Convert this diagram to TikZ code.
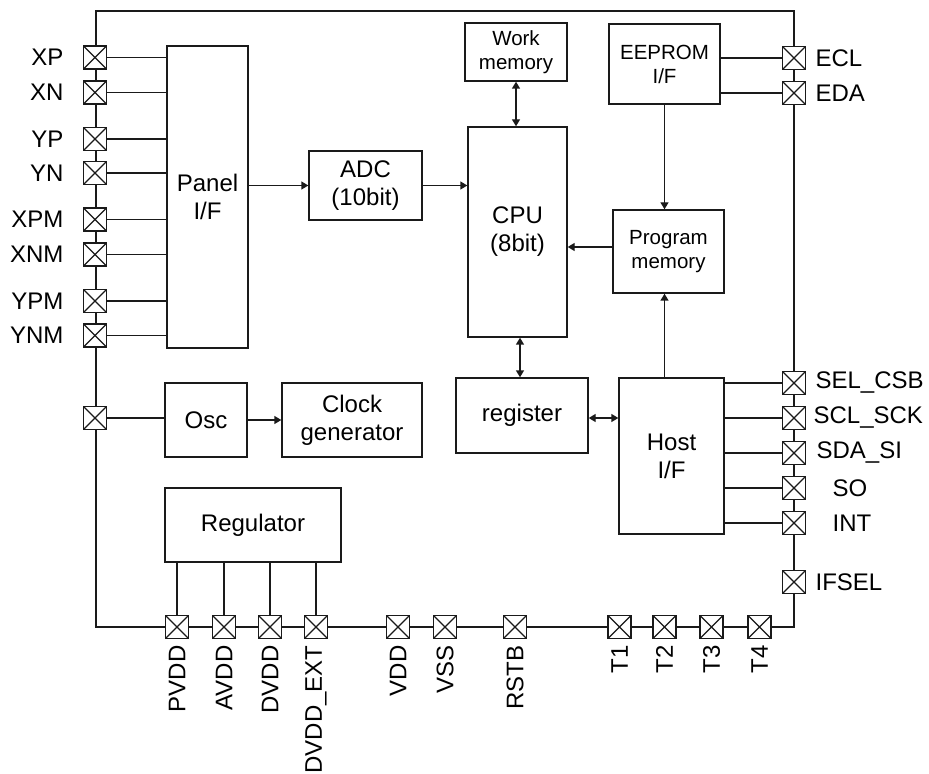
\documentclass[tikz,border=0pt]{standalone}
\usepackage{fontspec}
\setmainfont{Liberation Sans}
\usepackage{tikz}
\usetikzlibrary{arrows.meta}
\definecolor{linecolor}{HTML}{1a1a1a}

\tikzset{
    block/.style = {draw = linecolor, line width = 0.7pt, rectangle, align = center, font = \fontsize{12}{14}\selectfont},
    smallblock/.style = {block, font = \fontsize{10.25}{12}\selectfont},
    pad/.style = {draw = linecolor, line width = 0.7pt, fill = white, rectangle, minimum size = 11.5pt, inner sep = 0pt,
        path picture = {\draw [line width = 0.55pt] (path picture bounding box.south west) -- (path picture bounding box.north east)
            (path picture bounding box.north west) -- (path picture bounding box.south east);}},
    padl/.style = {left, inner sep = 0pt, xshift = -9.5pt, font = \fontsize{12}{14}\selectfont},
    padr/.style = {right, inner sep = 0pt, xshift = 4.5pt, font = \fontsize{12}{14}\selectfont},
    padb/.style = {yshift = -3pt, anchor = east, rotate = 90, inner sep = 0pt, font = \fontsize{12}{14}\selectfont},
    wire/.style = {draw = linecolor, line width = 0.7pt},
    link/.style = {wire, ->, > = {Triangle[length = 3.5pt, width = 4pt]}},
    dlink/.style = {wire, <->, > = {Triangle[length = 3.5pt, width = 4pt]}}
}

\begin{document}
\begin{tikzpicture}[x = 0.5pt, y = -0.5pt]
        \useasboundingbox (0, 0) rectangle (929, 774);

        % Chip outline
        \draw [wire] (96, 11) rectangle (794, 627);

        % Blocks
        \node [block, minimum width = 40.5pt, minimum height = 151pt] (panel) at (207.5, 197) {Panel\\I/F};
        \node [block, minimum width = 56.5pt, minimum height = 34.5pt] (adc) at (365.5, 185.5) {ADC\\(10bit)};
        \node [block, minimum width = 49.5pt, minimum height = 105pt] (cpu) at (517.5, 232) {CPU\\(8bit)};
        \node [smallblock, minimum width = 51pt, minimum height = 29pt] (work) at (516, 52) {Work\\memory};
        \node [smallblock, minimum width = 55.5pt, minimum height = 40pt] (eeprom) at (664.5, 64) {EEPROM\\I/F};
        \node [smallblock, minimum width = 55.5pt, minimum height = 41.5pt] (prog) at (668.5, 251.5) {Program\\memory};
        \node [block, minimum width = 66pt, minimum height = 37.5pt] (register) at (522, 415.5) {register};
        \node [block, minimum width = 52.5pt, minimum height = 78pt] (host) at (671.5, 456) {Host\\I/F};
        \node [block, minimum width = 41pt, minimum height = 37pt] (osc) at (206, 420) {Osc};
        \node [block, minimum width = 70pt, minimum height = 37pt] (clock) at (352, 420) {Clock\\generator};
        \node [block, minimum width = 88pt, minimum height = 37pt] (reg) at (253, 525) {Regulator};

        % Pads, left side
        \node [pad] (pXP) at (95, 57.5) {};
        \node [pad] (pXN) at (95, 92.5) {};
        \node [pad] (pYP) at (95, 139) {};
        \node [pad] (pYN) at (95, 173) {};
        \node [pad] (pXPM) at (95, 219.5) {};
        \node [pad] (pXNM) at (95, 254.5) {};
        \node [pad] (pYPM) at (95, 301) {};
        \node [pad] (pYNM) at (95, 335.5) {};
        \node [pad] (pOSC) at (95, 418) {};

        % Pads, right side
        \node [pad] (pECL) at (794, 58) {};
        \node [pad] (pEDA) at (794, 93) {};
        \node [pad] (pSEL) at (794, 383) {};
        \node [pad] (pSCL) at (794, 418) {};
        \node [pad] (pSDA) at (794, 453) {};
        \node [pad] (pSO) at (794, 488) {};
        \node [pad] (pINT) at (794, 523) {};
        \node [pad] (pIFSEL) at (794, 582) {};

        % Pads, bottom side
        \node [pad] (pPVDD) at (177, 627) {};
        \node [pad] (pAVDD) at (224, 627) {};
        \node [pad] (pDVDD) at (270, 627) {};
        \node [pad] (pDVDDEXT) at (316, 627) {};
        \node [pad] (pVDD) at (398, 627) {};
        \node [pad] (pVSS) at (445, 627) {};
        \node [pad] (pRSTB) at (515, 627) {};
        \node [pad] (pT1) at (619.5, 627) {};
        \node [pad] (pT2) at (664.5, 627) {};
        \node [pad] (pT3) at (711.5, 627) {};
        \node [pad] (pT4) at (759.5, 627) {};

        % Draw the links
        \draw [link] (adc.west -| panel.east) -- (adc.west);
        \draw [link] (adc.east) -- (adc.east -| cpu.west);
        \draw [dlink] (work.south) -- (work.south |- cpu.north);
        \draw [link] (eeprom.south) -- (eeprom.south |- prog.north);
        \draw [link] (prog.west |- 0, 247) -- (cpu.east |- 0, 247);
        \draw [link] (host.north -| eeprom.south) -- (eeprom.south |- prog.south);
        \draw [dlink] (cpu.south -| 520, 0) -- (register.north -| 520, 0);
        \draw [dlink] (register.east |- pSCL) -- (host.west |- pSCL);
        \draw [link] (osc.east) -- (clock.west);

        % Wires to pads
        \draw [wire] (pXP.east) -- (pXP.east -| panel.west);
        \draw [wire] (pXN.east) -- (pXN.east -| panel.west);
        \draw [wire] (pYP.east) -- (pYP.east -| panel.west);
        \draw [wire] (pYN.east) -- (pYN.east -| panel.west);
        \draw [wire] (pXPM.east) -- (pXPM.east -| panel.west);
        \draw [wire] (pXNM.east) -- (pXNM.east -| panel.west);
        \draw [wire] (pYPM.east) -- (pYPM.east -| panel.west);
        \draw [wire] (pYNM.east) -- (pYNM.east -| panel.west);
        \draw [wire] (pOSC.east) -- (pOSC.east -| osc.west);
        \draw [wire] (pECL.west -| eeprom.east) -- (pECL.west);
        \draw [wire] (pEDA.west -| eeprom.east) -- (pEDA.west);
        \draw [wire] (pSEL.west -| host.east) -- (pSEL.west);
        \draw [wire] (pSCL.west -| host.east) -- (pSCL.west);
        \draw [wire] (pSDA.west -| host.east) -- (pSDA.west);
        \draw [wire] (pSO.west -| host.east) -- (pSO.west);
        \draw [wire] (pINT.west -| host.east) -- (pINT.west);
        \draw [wire] (reg.south -| pPVDD) -- (pPVDD.north);
        \draw [wire] (reg.south -| pAVDD) -- (pAVDD.north);
        \draw [wire] (reg.south -| pDVDD) -- (pDVDD.north);
        \draw [wire] (reg.south -| pDVDDEXT) -- (pDVDDEXT.north);

        % Pad names
        \node [padl] at (pXP.west) {XP};
        \node [padl] at (pXN.west) {XN};
        \node [padl] at (pYP.west) {YP};
        \node [padl] at (pYN.west) {YN};
        \node [padl] at (pXPM.west) {XPM};
        \node [padl] at (pXNM.west) {XNM};
        \node [padl] at (pYPM.west) {YPM};
        \node [padl] at (pYNM.west) {YNM};
        \node [padr] at (pECL.east) {ECL};
        \node [padr] at (pEDA.east) {EDA};
        \node [padr] at (pSEL.east) {SEL\_CSB};
        \node [padr, xshift = -1pt] at (pSCL.east) {SCL\_SCK};
        \node [padr, xshift = 0.5pt] at (pSDA.east) {SDA\_SI};
        \node [padr, xshift = 8.5pt] at (pSO.east) {SO};
        \node [padr, xshift = 8.5pt] at (pINT.east) {INT};
        \node [padr] at (pIFSEL.east) {IFSEL};
        \node [padb] at (pPVDD.south) {PVDD};
        \node [padb] at (pAVDD.south) {AVDD};
        \node [padb] at (pDVDD.south) {DVDD};
        \node [padb] at (pDVDDEXT.south) {DVDD\_EXT};
        \node [padb] at (pVDD.south) {VDD};
        \node [padb] at (pVSS.south) {VSS};
        \node [padb] at (pRSTB.south) {RSTB};
        \node [padb] at (pT1.south) {T1};
        \node [padb] at (pT2.south) {T2};
        \node [padb] at (pT3.south) {T3};
        \node [padb] at (pT4.south) {T4};

    \end{tikzpicture}
\end{document}
